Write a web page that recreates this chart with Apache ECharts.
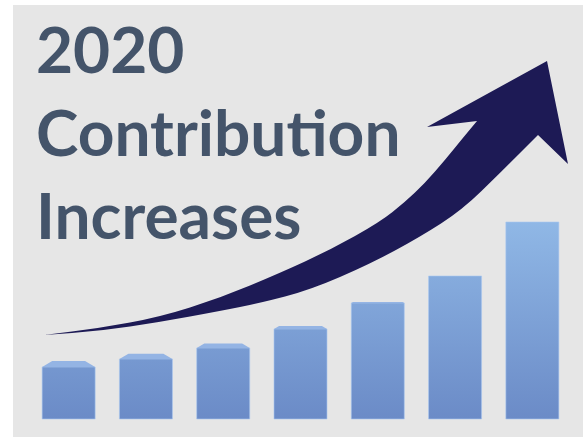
<!DOCTYPE html>
<html>
<head>
<meta charset="utf-8">
<script src="https://cdn.jsdelivr.net/npm/echarts@6/dist/echarts.min.js"></script>
<style>
  html, body { margin: 0; padding: 0; background: #ffffff; }
  #chart { width: 583px; height: 444px; }
</style>
</head>
<body>
<div id="chart"></div>
<script>
// ---- data ----
const titleLines = ['2020', 'Contribution', 'Increases'];
const categories = ['1', '2', '3', '4', '5', '6', '7'];
const contributions = [52, 60, 71, 90, 116, 143, 197];

// arrow outline (in page units of the overlay axes)
const arrowUpper = [[44,335],[100,328],[160,317],[220,298],[280,273],[330,250],[380,222],[405,202],[425,183],[445,160],[462,139],[477,121]];
const arrowHead = [[427,127],[547,61],[568,164]];
const arrowLower = [[538,135],[500,173],[462,210],[420,237],[370,264],[310,290],[260,303],[220,311],[160,322],[100,331],[44,335]];

const chart = echarts.init(document.getElementById('chart'));

const barGradient = new echarts.graphic.LinearGradient(0, 220, 0, 419, [
  { offset: 0, color: '#90b8e6' },
  { offset: 1, color: '#6b8bc7' }
], true);

// smooth path through a list of pixel points (quadratic curves through midpoints)
function smoothSegment(pts, start) {
  let d = (start ? 'M' : 'L') + pts[0][0] + ' ' + pts[0][1];
  const mid = (a, b) => [(a[0] + b[0]) / 2, (a[1] + b[1]) / 2];
  const m0 = mid(pts[0], pts[1]);
  d += ' L' + m0[0] + ' ' + m0[1];
  for (let i = 1; i < pts.length - 1; i++) {
    const m = mid(pts[i], pts[i + 1]);
    d += ' Q' + pts[i][0] + ' ' + pts[i][1] + ' ' + m[0] + ' ' + m[1];
  }
  const last = pts[pts.length - 1];
  d += ' L' + last[0] + ' ' + last[1];
  return d;
}

const option = {
  backgroundColor: '#ffffff',
  animation: false,
  title: {
    text: titleLines.join('\n'),
    left: 36,
    top: 11,
    padding: 0,
    textStyle: {
      fontFamily: 'Lato',
      fontWeight: 'bold',
      fontSize: 64,
      lineHeight: 83,
      color: '#44546a'
    }
  },
  grid: [
    { left: 30, right: 12, top: 19, bottom: 25, containLabel: false },
    { left: 0, right: 0, top: 0, bottom: 0 },
    { left: 13, right: 0, top: 5, bottom: 7, show: true, backgroundColor: '#e6e6e6', borderWidth: 0, z: -1 }
  ],
  xAxis: [
    { type: 'category', gridIndex: 0, data: categories, show: false },
    { type: 'value', gridIndex: 1, min: 0, max: 583, show: false },
    { type: 'value', gridIndex: 2, show: false }
  ],
  yAxis: [
    { type: 'value', gridIndex: 0, min: 0, max: 400, show: false },
    { type: 'value', gridIndex: 1, min: 0, max: 444, inverse: true, show: false },
    { type: 'value', gridIndex: 2, show: false }
  ],
  series: [
    {
      type: 'custom',
      xAxisIndex: 0,
      yAxisIndex: 0,
      data: contributions.map((v, i) => [i, v]),
      renderItem: function (params, api) {
        const top = api.coord([api.value(0), api.value(1)]);
        const base = api.coord([api.value(0), 0]);
        const band = api.size([1, 0])[0];
        const w = band * 0.686;
        const x0 = top[0] - w / 2;
        const x1 = top[0] + w / 2;
        // perspective depth of the top face, shrinking as bars rise toward the horizon
        const depth = Math.max(0, (top[1] - 290) / 13);
        const children = [{
          type: 'rect',
          shape: { x: x0, y: top[1], width: w, height: base[1] - top[1] },
          style: { fill: barGradient, stroke: 'rgba(170,200,240,0.6)', lineWidth: 1 }
        }];
        if (depth > 0.5) {
          const inset = depth * 1.7;
          children.push({
            type: 'polygon',
            shape: { points: [[x0, top[1]], [x0 + inset, top[1] - depth], [x1 - inset, top[1] - depth], [x1, top[1]]] },
            style: { fill: '#94b4e4' }
          });
        }
        return { type: 'group', children: children };
      }
    },
    {
      type: 'custom',
      xAxisIndex: 1,
      yAxisIndex: 1,
      z: 5,
      data: [[0, 0]],
      renderItem: function (params, api) {
        const up = arrowUpper.map(p => api.coord(p));
        const head = arrowHead.map(p => api.coord(p));
        const low = arrowLower.map(p => api.coord(p));
        let pathData = smoothSegment(up, true);
        head.forEach(p => { pathData += ' L' + p[0] + ' ' + p[1]; });
        pathData += ' ' + smoothSegment(low, false) + ' Z';
        return {
          type: 'path',
          shape: { pathData: pathData },
          style: { fill: '#1d1a55' }
        };
      }
    }
  ]
};

chart.setOption(option);
</script>
</body>
</html>
